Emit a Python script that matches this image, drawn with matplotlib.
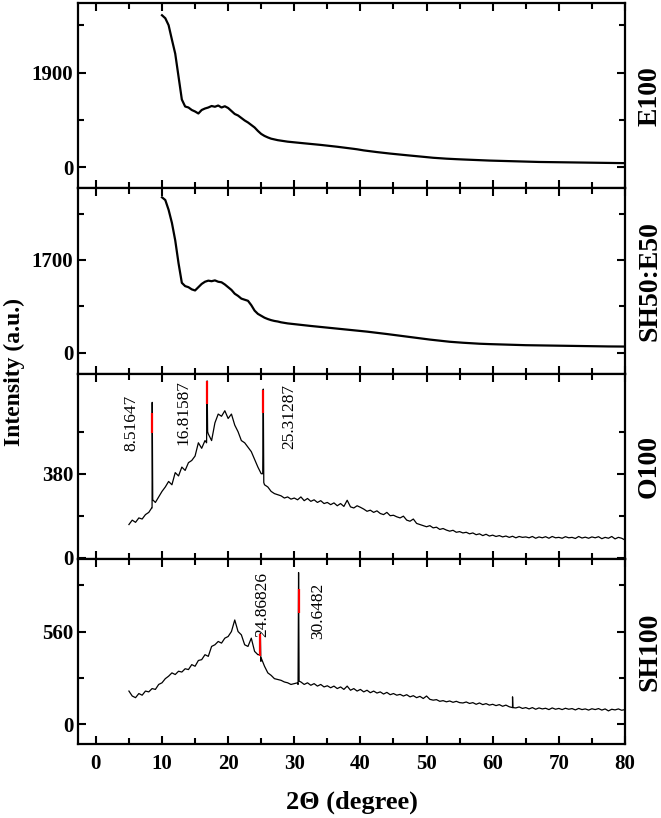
import numpy as np
import matplotlib
matplotlib.use("Agg")
import matplotlib.pyplot as plt
from matplotlib.ticker import MultipleLocator, FixedLocator

plt.rcParams['font.family'] = ['Liberation Serif', 'DejaVu Serif']

# ---------------- data ----------------
x_e = np.arange(10, 80.01, 0.5)
e100 = [3050, 2990, 2850, 2560, 2280, 1820, 1360, 1220, 1200, 1150, 1120, 1080, 1150, 1180, 1200,
        1230, 1215, 1240, 1200, 1225, 1190, 1130, 1070, 1040, 990, 940, 900, 850, 800, 730, 670,
        630, 600, 575, 560, 545, 535, 525, 515, 508, 500,
        495, 488, 482, 476, 470, 464, 457, 450, 443, 436,
        429, 421, 413, 405, 397, 389, 380, 371, 362, 350,
        340, 331, 322, 314, 306, 298, 290, 283, 276, 269,
        262, 255, 249, 243, 237, 230, 224, 218, 212, 205,
        198, 192, 187, 182, 178, 174, 170, 167, 164, 162,
        158, 155, 152, 148, 145, 142, 140, 138, 136, 134,
        132, 130, 128, 126, 124, 122, 120, 118, 116, 114,
        112, 111, 110, 108, 107, 106, 105, 104, 103, 101,
        100, 99, 98, 97, 96, 95, 94, 93, 92, 91,
        90, 89, 89, 88, 88, 87, 87, 86, 86, 85]

sh50e50 = [2850, 2800, 2620, 2380, 2060, 1640, 1280, 1220, 1200, 1160, 1140, 1200, 1260, 1300, 1320,
           1310, 1325, 1300, 1290, 1250, 1200, 1150, 1080, 1040, 990, 970, 950, 870, 770, 710, 675,
           640, 615, 595, 580, 570, 555, 545, 535, 528, 520,
           514, 507, 500, 494, 488, 482, 476, 470, 464, 458,
           452, 446, 440, 434, 428, 422, 416, 410, 404, 398,
           391, 384, 377, 370, 362, 355, 348, 340, 332, 325,
           317, 309, 300, 292, 284, 276, 268, 260, 252, 245,
           238, 231, 224, 217, 210, 204, 198, 193, 188, 184,
           180, 176, 172, 168, 165, 162, 159, 157, 155, 153,
           151, 149, 147, 145, 143, 141, 139, 138, 137, 135,
           134, 133, 132, 130, 129, 128, 127, 126, 125, 123,
           122, 121, 120, 119, 118, 117, 117, 116, 115, 115,
           114, 114, 113, 113, 112, 112, 111, 111, 110, 110]

x_o = np.arange(5, 80.01, 0.5)
o100 = [150, 170, 160, 180, 175, 195, 205, 225,
        250, 275, 300, 320, 345, 330, 385, 370, 410, 395, 430, 440, 460, 520, 495, 530, 560, 530,
        610, 650, 640, 665, 630, 650, 600, 570, 530, 520, 500, 480, 445, 410, 380, 330, 320, 300,
        290, 285, 280, 270, 275, 265, 270,
        262, 275, 258, 268, 255, 262, 250, 258, 245, 250,
        240, 248, 235, 245, 232, 260, 230, 225, 235, 228,
        220, 210, 215, 205, 212, 200, 195, 205, 190, 192,
        185, 180, 188, 170, 165, 175, 155, 150, 145, 140,
        145, 135, 138, 128, 132, 125, 120, 124, 115, 118,
        112, 115, 108, 112, 104, 108, 100, 106, 98, 102,
        96, 100, 94, 98, 92, 97, 90, 96, 92, 94,
        90, 96, 88, 94, 90, 95, 88, 96, 90, 92,
        88, 95, 90, 92, 87, 96, 89, 93, 88, 94,
        90, 95, 86, 92, 88, 96, 85, 92, 88, 80]
o100_peak_x = [8.44, 8.52, 8.60, 16.74, 16.82, 16.90, 25.23, 25.31, 25.39]
o100_peak_y = [225, 703, 262, 520, 800, 570, 380, 763, 340]
o100_labels = ["8.51647", "16.81587", "25.31287"]
o100_label_x = [5.4, 13.2, 29.3]
o100_label_y = [612, 657, 639]
o100_red_x = [8.52, 16.82, 25.31]
o100_red_lo = [563, 697, 655]
o100_red_hi = [653, 800, 760]

sh100 = [200, 170, 160, 185, 175, 200, 195, 215, 210, 240,
         250, 275, 290, 310, 300, 320, 315, 335, 330, 360,
         350, 385, 390, 420, 410, 470, 480, 500, 490, 520,
         530, 560, 630, 560, 540, 480, 470, 520, 440, 420,
         400, 350, 310, 295, 275, 270, 265, 255, 250, 240, 245,
         250, 255, 240, 250, 235, 245, 230, 240, 225, 232,
         220, 230, 215, 225, 210, 230, 205, 215, 200, 210,
         195, 205, 190, 200, 188, 195, 182, 192, 178, 185,
         175, 180, 170, 178, 165, 172, 160, 168, 155, 170,
         150, 145, 148, 138, 142, 135, 140, 132, 138, 130,
         128, 134, 125, 130, 120, 128, 118, 124, 115, 120,
         112, 118, 108, 115, 105, 100, 98, 104, 95, 100,
         92, 100, 90, 98, 92, 96, 88, 98, 90, 95,
         88, 96, 90, 94, 86, 95, 88, 92, 85, 93,
         88, 94, 85, 92, 80, 90, 86, 92, 84, 88]
sh100_peak_x = [24.80, 24.87, 24.95, 30.57, 30.65, 30.73, 62.95, 63.0, 63.05]
sh100_peak_y = [420, 548, 380, 240, 917, 260, 100, 165, 100]
sh100_labels = ["24.86826", "30.6482"]
sh100_label_x = [25.1, 33.6]
sh100_label_y = [722, 686]
sh100_red_x = [24.87, 30.65]
sh100_red_lo = [415, 674]
sh100_red_hi = [548, 819]

panel_names = ["E100", "SH50:E50", "O100", "SH100"]
ylims = [(-423, 3290), (-387, 3013), (-5, 833), (-120, 1000)]
major_yticks = [[0, 1900], [0, 1700], [0, 380], [0, 560]]
minor_yticks = [[950, 2850], [850, 2550], [190, 570], [280, 840]]


def merge(xg, yg, px, py):
    xa = np.concatenate([xg, px])
    ya = np.concatenate([yg, py])
    o = np.argsort(xa, kind="stable")
    return xa[o], ya[o]


series = [
    (x_e, np.array(e100, float)),
    (x_e, np.array(sh50e50, float)),
    merge(x_o, np.array(o100, float), o100_peak_x, o100_peak_y),
    merge(x_o, np.array(sh100, float), sh100_peak_x, sh100_peak_y),
]

fig = plt.figure(figsize=(6.61, 8.18), dpi=100)
gs = fig.add_gridspec(4, 1, left=0.118, right=0.9455, top=0.996, bottom=0.0905, hspace=0)
axes = [fig.add_subplot(gs[i]) for i in range(4)]

for i, ax in enumerate(axes):
    xs, ys = series[i]
    ax.plot(xs, ys, color='black', lw=1.6 if i < 2 else 0.9)
    ax.set_xlim(-2.7, 80)
    ax.set_ylim(*ylims[i])
    ax.xaxis.set_major_locator(MultipleLocator(10))
    ax.xaxis.set_minor_locator(MultipleLocator(5))
    ax.yaxis.set_major_locator(FixedLocator(major_yticks[i]))
    ax.yaxis.set_minor_locator(FixedLocator(minor_yticks[i]))
    ax.tick_params(which='both', direction='in', top=True, right=True, width=1.5)
    ax.tick_params(which='major', length=6)
    ax.tick_params(which='minor', length=4)
    ax.tick_params(axis='y', labelsize=15)
    ax.tick_params(axis='x', labelsize=15, pad=7)
    for lab in ax.get_yticklabels() + ax.get_xticklabels():
        lab.set_fontweight('bold')
    for sp in ax.spines.values():
        sp.set_linewidth(1.6)
    if i < 3:
        ax.tick_params(axis='x', labelbottom=False)
    ax.text(1.045, 0.5, panel_names[i], transform=ax.transAxes, rotation=90,
            ha='center', va='center', fontsize=20, fontweight='bold')

ax3 = axes[2]
for lx, ly, t in zip(o100_label_x, o100_label_y, o100_labels):
    ax3.text(lx, ly, t, rotation=90, ha='center', va='center', fontsize=12.5)
ax3.vlines(o100_red_x, o100_red_lo, o100_red_hi, color='red', lw=1.6, zorder=3)

ax4 = axes[3]
for lx, ly, t in zip(sh100_label_x, sh100_label_y, sh100_labels):
    ax4.text(lx, ly, t, rotation=90, ha='center', va='center', fontsize=12.5)
ax4.vlines(sh100_red_x, sh100_red_lo, sh100_red_hi, color='red', lw=1.6, zorder=3)
ax4.set_xlabel("2\u0398 (degree)", fontsize=19, fontweight='bold', labelpad=12)

fig.text(0.022, 0.545, "Intensity (a.u.)", rotation=90, ha='center', va='center',
         fontsize=17, fontweight='bold')

fig.savefig("out.png", dpi=100)
